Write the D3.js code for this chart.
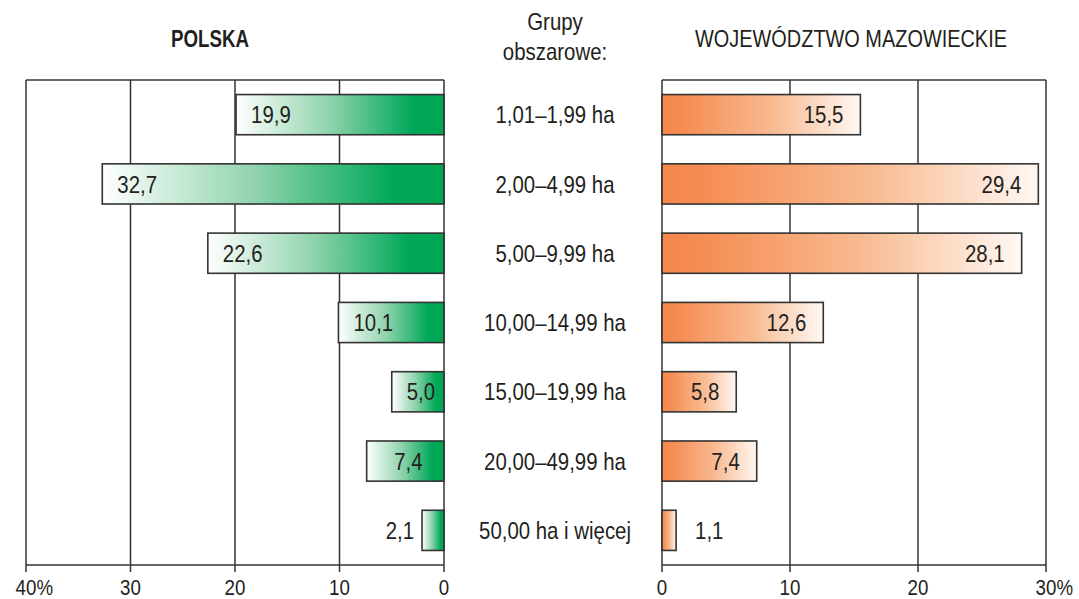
<!DOCTYPE html>
<html><head><meta charset="utf-8">
<script src="https://cdn.jsdelivr.net/npm/d3@7"></script>
<style>
html,body{margin:0;padding:0;background:#fff;}
svg{display:block;font-family:"Liberation Sans","Arial","Helvetica",sans-serif;}
</style></head>
<body>
<svg id="c" width="1079" height="599"></svg>
<script>
const categories = ["1,01–1,99 ha","2,00–4,99 ha","5,00–9,99 ha","10,00–14,99 ha","15,00–19,99 ha","20,00–49,99 ha","50,00 ha i więcej"];
const polska = [19.9, 32.7, 22.6, 10.1, 5.0, 7.4, 2.1];
const mazowieckie = [15.5, 29.4, 28.1, 12.6, 5.8, 7.4, 1.1];
const leftTicks = [40, 30, 20, 10, 0];
const rightTicks = [0, 10, 20, 30];
const titleLeft = "POLSKA";
const titleRight = "WOJEWÓDZTWO MAZOWIECKIE";
const midTitle = ["Grupy", "obszarowe:"];

(function(){
const svg = d3.select("#c");
const ink = "#231f20", line = "#333";
const fmt = v => v.toFixed(1).replace(".", ",");
const SX = 0.85;

const yTop = 80, yBottom = 565;
const xL = d3.scaleLinear().domain([40, 0]).range([26, 444]);
const xR = d3.scaleLinear().domain([0, 30]).range([662, 1046]);
const y = d3.scaleBand().domain(categories).range([yTop, yBottom]).paddingInner(0.42).paddingOuter(0.21);

function ntext(parent, x, yy, str, o) {
  o = o || {};
  const t = parent.append("text")
    .attr("transform", `translate(${x},${yy}) scale(${o.sx || SX},1)`)
    .attr("font-size", o.size || 24)
    .attr("fill", ink)
    .attr("text-anchor", o.anchor || "start");
  if (o.bold) t.attr("font-weight", "bold");
  if (o.dy) t.attr("dy", o.dy);
  t.text(str);
  return t;
}

const defs = svg.append("defs");
const gG = defs.append("linearGradient").attr("id","gGreen").attr("x1","0").attr("x2","1").attr("y1","0").attr("y2","0");
gG.append("stop").attr("offset","0").attr("stop-color","#ffffff");
gG.append("stop").attr("offset","0.45").attr("stop-color","#8fd3ac");
gG.append("stop").attr("offset","0.85").attr("stop-color","#00a859");
gG.append("stop").attr("offset","1").attr("stop-color","#00a651");
const gO = defs.append("linearGradient").attr("id","gOrange").attr("x1","0").attr("x2","1").attr("y1","0").attr("y2","0");
gO.append("stop").attr("offset","0").attr("stop-color","#f5874a");
gO.append("stop").attr("offset","0.1").attr("stop-color","#f58c52");
gO.append("stop").attr("offset","0.55").attr("stop-color","#f8b98f");
gO.append("stop").attr("offset","1").attr("stop-color","#fff8f3");

function panel(x, ticks) {
  const g = svg.append("g");
  g.append("line").attr("x1", d3.min(x.range())).attr("x2", d3.max(x.range()))
    .attr("y1", yTop).attr("y2", yTop).attr("stroke", line).attr("stroke-width", 1.5);
  g.selectAll(".gl").data(ticks).join("line")
    .attr("x1", d => x(d)).attr("x2", d => x(d)).attr("y1", yTop).attr("y2", yBottom + 7)
    .attr("stroke", line).attr("stroke-width", 1.5);
  g.append("line").attr("x1", d3.min(x.range())).attr("x2", d3.max(x.range()))
    .attr("y1", yBottom).attr("y2", yBottom).attr("stroke", line).attr("stroke-width", 1.5);
}
panel(xL, leftTicks);
panel(xR, rightTicks);

function tickLabels(x, ticks, pctTick) {
  ticks.forEach(t => {
    const txt = ntext(svg, 0, 0, null, {size: 22});
    txt.append("tspan").text(String(t));
    if (t === pctTick) txt.append("tspan").text("%");
    const wNum = txt.select("tspan").node().getComputedTextLength() * SX;
    txt.attr("transform", `translate(${x(t) - wNum / 2},595) scale(${SX},1)`);
  });
}
tickLabels(xL, leftTicks, 40);
tickLabels(xR, rightTicks, 30);

const lg = svg.append("g");
lg.selectAll("rect").data(polska).join("rect")
  .attr("x", d => xL(d)).attr("width", d => xL(0) - xL(d))
  .attr("y", (d, i) => y(categories[i])).attr("height", y.bandwidth())
  .attr("fill", "url(#gGreen)").attr("stroke", line).attr("stroke-width", 1.6);
polska.forEach((d, i) => {
  const w = xL(0) - xL(d);
  const cy = y(categories[i]) + y.bandwidth() / 2;
  if (w < 40) ntext(lg, xL(d) - 8, cy, fmt(d), {anchor: "end", dy: "0.36em"});
  else if (w < 90) ntext(lg, xL(d) + w / 2 + 3, cy, fmt(d), {anchor: "middle", dy: "0.36em"});
  else ntext(lg, xL(d) + 15, cy, fmt(d), {anchor: "start", dy: "0.36em"});
});

const rg = svg.append("g");
rg.selectAll("rect").data(mazowieckie).join("rect")
  .attr("x", xR(0)).attr("width", d => xR(d) - xR(0))
  .attr("y", (d, i) => y(categories[i])).attr("height", y.bandwidth())
  .attr("fill", "url(#gOrange)").attr("stroke", line).attr("stroke-width", 1.6);
mazowieckie.forEach((d, i) => {
  const w = xR(d) - xR(0);
  const inside = w > 40;
  ntext(rg, inside ? xR(d) - 17 : xR(d) + 19, y(categories[i]) + y.bandwidth() / 2, fmt(d),
    {anchor: inside ? "end" : "start", dy: "0.36em"});
});

const cg = svg.append("g");
categories.forEach(c => ntext(cg, 555, y(c) + y.bandwidth() / 2, c, {anchor: "middle", dy: "0.36em"}));

ntext(svg, 210, 47, titleLeft, {anchor: "middle", bold: true, sx: 0.78});
ntext(svg, 851, 47, titleRight, {anchor: "middle", sx: 0.83});
midTitle.forEach((s, i) => ntext(svg, 555, 30 + i * 30, s, {anchor: "middle"}));
})();
</script>
</body></html>
